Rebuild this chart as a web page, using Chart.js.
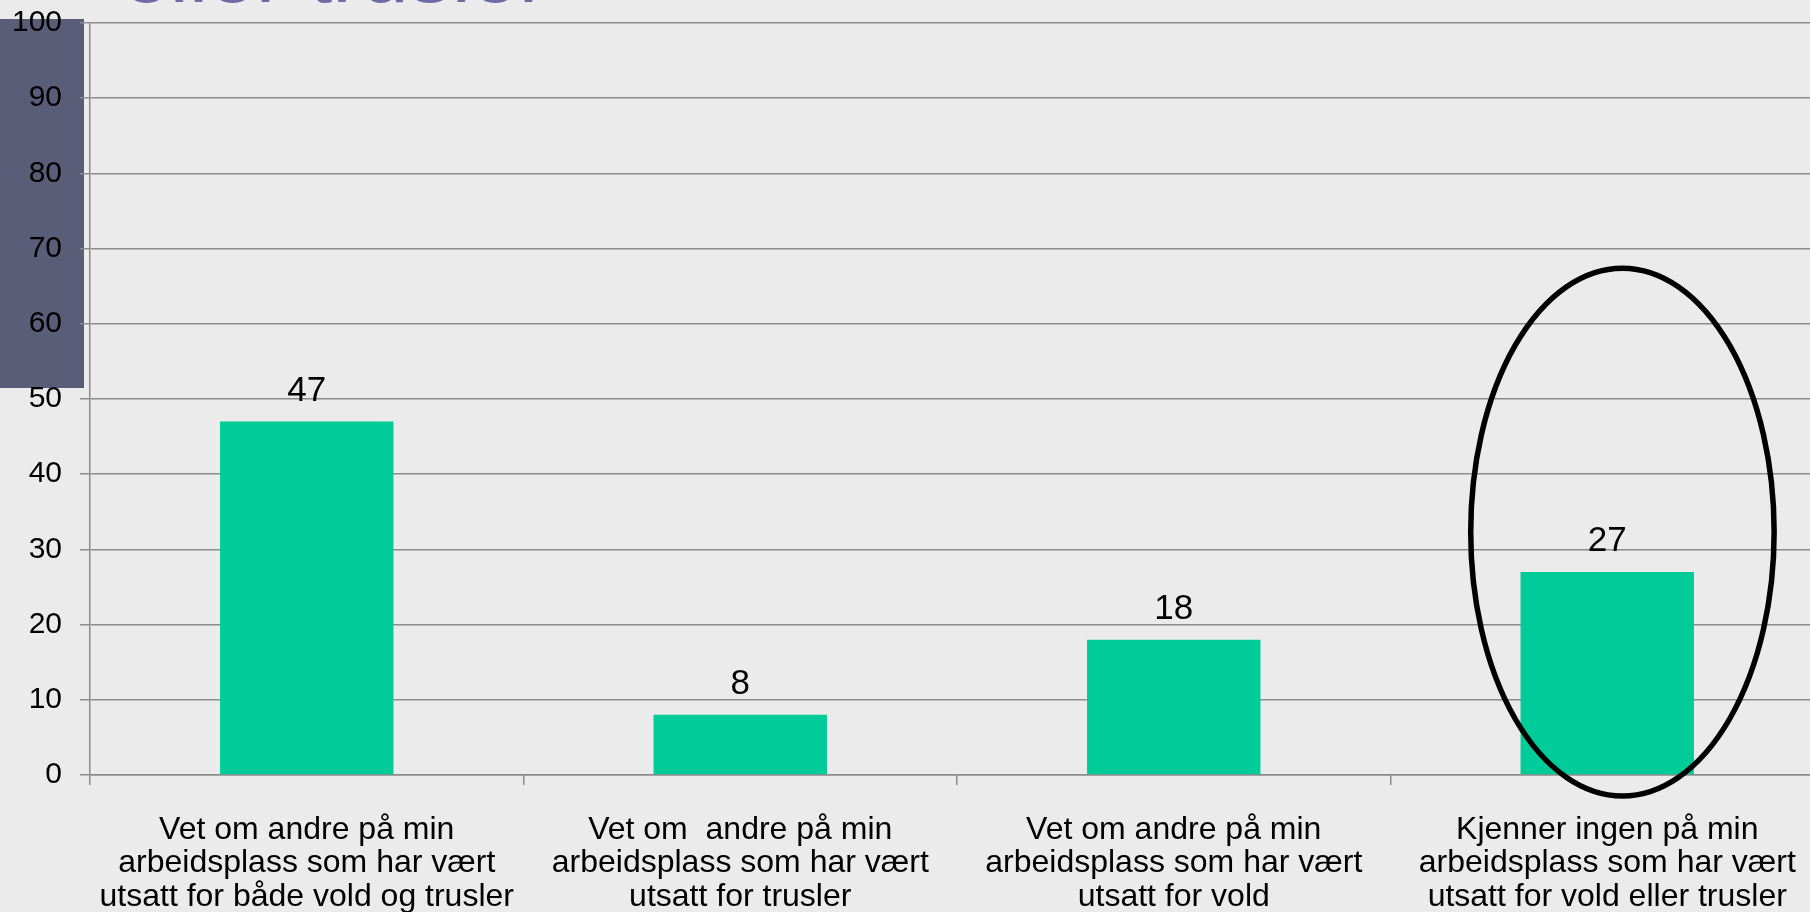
<!DOCTYPE html>
<html>
<head>
<meta charset="utf-8">
<script src="https://cdn.jsdelivr.net/npm/chart.js@4"></script>
<style>
  html, body { margin: 0; padding: 0; background: #ebebeb; overflow: hidden; width: 1810px; height: 912px; }
  #slideTitle {
    position: absolute; left: 122px; top: -71px;
    font-family: "Liberation Sans", Arial, sans-serif; font-size: 86px; line-height: 86px;
    color: #6e6aa6; white-space: nowrap; z-index: 0;
  }
  #sideBar { position: absolute; left: 0; top: 19px; width: 84px; height: 369px; background: #5a5d78; z-index: 0; }
  #wrap { position: absolute; left: 0; top: 0; width: 1840px; height: 912px; z-index: 1; }
</style>
</head>
<body>
<div id="slideTitle">eller trusler</div>
<div id="sideBar"></div>
<div id="wrap"><canvas id="c" width="1840" height="912"></canvas></div>
<script>
const categories = [
  ["Vet om andre på min", "arbeidsplass som har vært", "utsatt for både vold og trusler"],
  ["Vet om  andre på min", "arbeidsplass som har vært", "utsatt for trusler"],
  ["Vet om andre på min", "arbeidsplass som har vært", "utsatt for vold"],
  ["Kjenner ingen på min", "arbeidsplass som har vært", "utsatt for vold eller trusler"]
];
const values = [47, 8, 18, 27];
const yTicks = [0, 10, 20, 30, 40, 50, 60, 70, 80, 90, 100];
const highlightIndex = 3;

const FONT = "'Liberation Sans', Arial, sans-serif";
const GRID = '#8c8c8c';

const valueLabels = {
  id: 'valueLabels',
  afterDatasetsDraw(chart) {
    const ctx = chart.ctx;
    const meta = chart.getDatasetMeta(0);
    ctx.save();
    ctx.fillStyle = '#000';
    ctx.font = '35px ' + FONT;
    ctx.textAlign = 'center';
    ctx.textBaseline = 'alphabetic';
    meta.data.forEach((bar, i) => {
      ctx.fillText(String(values[i]), bar.x, bar.y - 21);
    });
    ctx.restore();
  }
};

const highlightEllipse = {
  id: 'highlightEllipse',
  afterDraw(chart) {
    const x = chart.scales.x, y = chart.scales.y;
    const catW = x.getPixelForValue(1) - x.getPixelForValue(0);
    const cx = x.getPixelForValue(highlightIndex) + catW * 0.035;
    const cy = y.getPixelForValue(32.3);
    const rx = catW * 0.35;
    const ry = y.getPixelForValue(0) - y.getPixelForValue(35.1);
    const ctx = chart.ctx;
    ctx.save();
    ctx.beginPath();
    ctx.ellipse(cx, cy, rx, ry, 0, 0, Math.PI * 2);
    ctx.lineWidth = 5.5;
    ctx.strokeStyle = '#000';
    ctx.stroke();
    ctx.restore();
  }
};

new Chart(document.getElementById('c'), {
  type: 'bar',
  data: {
    labels: categories,
    datasets: [{
      data: values,
      backgroundColor: '#00cc99',
      borderWidth: 0,
      categoryPercentage: 1.0,
      barPercentage: 0.4
    }]
  },
  options: {
    responsive: false,
    animation: false,
    layout: { padding: { top: 23, right: 16, bottom: 0, left: 0 } },
    plugins: { legend: { display: false }, tooltip: { enabled: false } },
    scales: {
      x: {
        offset: true,
        grid: { display: true, drawOnChartArea: false, drawTicks: true, tickLength: 10, color: GRID, lineWidth: 1.5, offset: true },
        border: { display: true, color: GRID, width: 1.5 },
        ticks: { color: '#000', font: { family: FONT, size: 32, lineHeight: 1.05 }, padding: 28, maxRotation: 0, autoSkip: false },
        afterFit(s) { s.height = 137; s.paddingLeft = 0; s.paddingRight = 0; }
      },
      y: {
        min: 0, max: 100,
        afterBuildTicks(s) { s.ticks = yTicks.map(v => ({ value: v })); },
        grid: { color: GRID, lineWidth: 1.5, drawTicks: true, tickLength: 10 },
        border: { display: true, color: GRID, width: 1.5 },
        ticks: { color: '#000', font: { family: FONT, size: 30, lineHeight: 0.5 }, padding: 18 },
        afterFit(s) { s.width = 90; s.paddingTop = 0; s.paddingBottom = 0; }
      }
    }
  },
  plugins: [valueLabels, highlightEllipse]
});
</script>
</body>
</html>
